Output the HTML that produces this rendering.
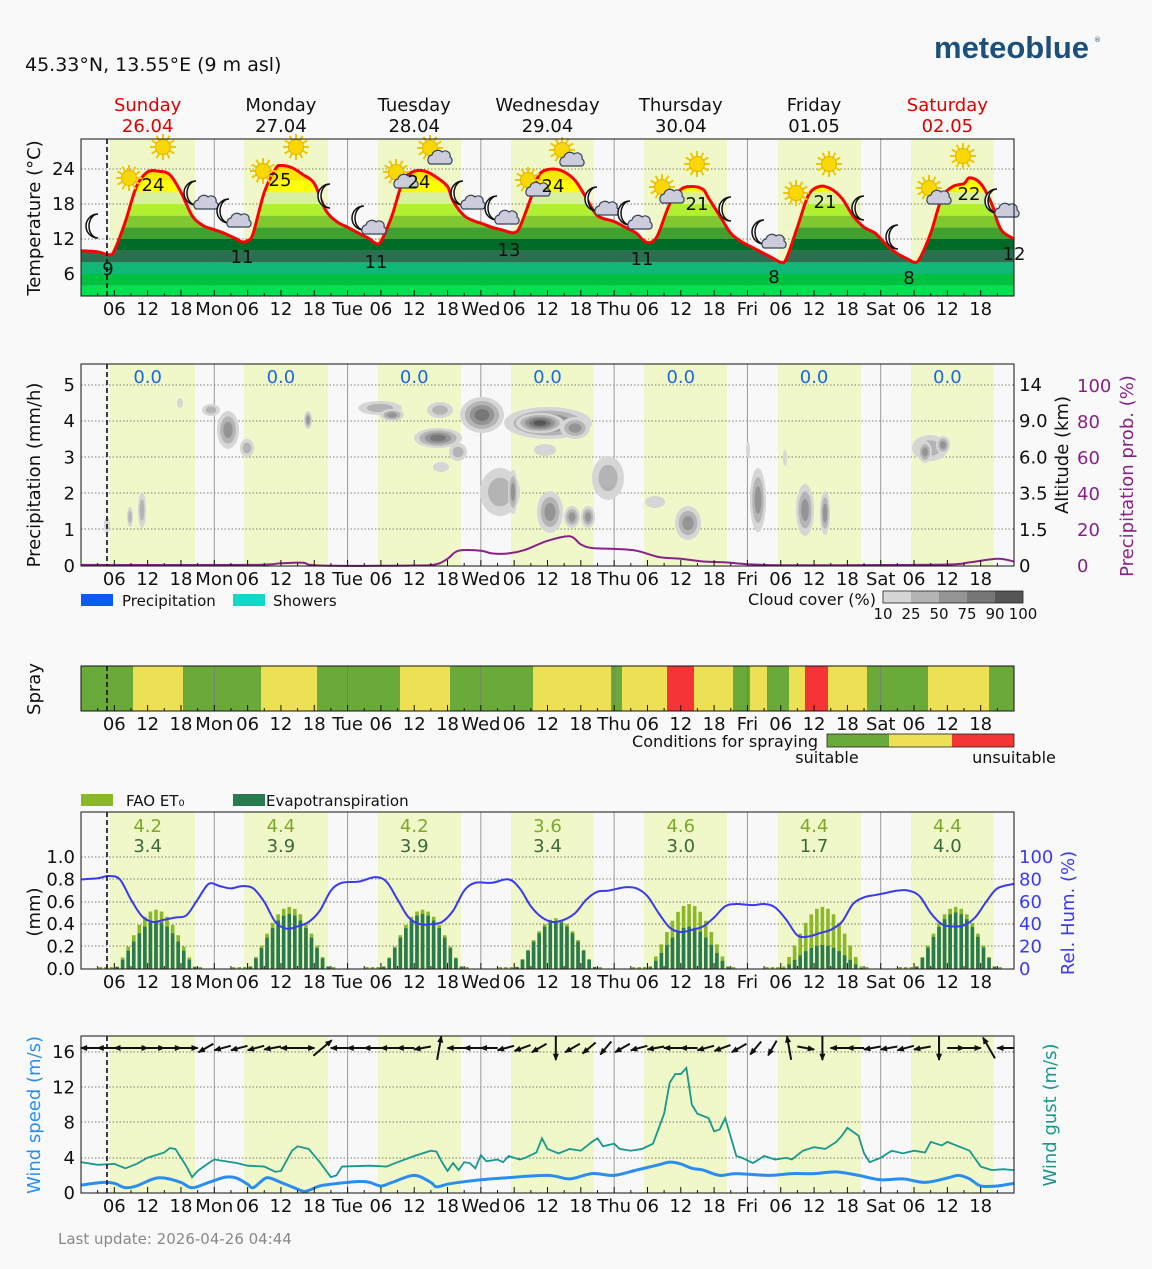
<!DOCTYPE html>
<html><head><meta charset="utf-8">
<style>
html,body{margin:0;padding:0;background:#f9f9f9;}
svg{display:block;font-family:"DejaVu Sans","Liberation Sans",sans-serif;}
</style></head>
<body>
<svg id="s" width="1152" height="1269" viewBox="0 0 1152 1269" xmlns="http://www.w3.org/2000/svg">
<rect width="1152" height="1269" fill="#f9f9f9"/>
<text x="25" y="71" font-size="19" fill="#111">45.33°N, 13.55°E (9 m asl)</text>
<text x="934" y="58" font-size="31" font-weight="bold" fill="#1d4f7c" font-family="Liberation Sans,sans-serif">meteoblue</text>
<text x="1094" y="42" font-size="7" fill="#1d4f7c">®</text>
<text x="58" y="1244" font-size="15" fill="#888">Last update: 2026-04-26 04:44</text>
</svg>
<script>
const S=document.getElementById('s');const NS='http://www.w3.org/2000/svg';
function el(t,a,p){const e=document.createElementNS(NS,t);for(const k in a)e.setAttribute(k,a[k]);(p||S).appendChild(e);return e;}
function tx(x,y,s,a){const e=el('text',Object.assign({x:x,y:y,'font-size':18,fill:'#111'},a||{}));e.textContent=s;return e;}
const X=h=>81+h*933/168;
function smooth(pts){let d='M'+pts[0][0]+','+pts[0][1];for(let i=0;i<pts.length-1;i++){const p0=pts[i-1]||pts[i],p1=pts[i],p2=pts[i+1],p3=pts[i+2]||p2;
const c1=[p1[0]+(p2[0]-p0[0])/6,p1[1]+(p2[1]-p0[1])/6],c2=[p2[0]-(p3[0]-p1[0])/6,p2[1]-(p3[1]-p1[1])/6];
d+=' C'+c1.join(',')+' '+c2.join(',')+' '+p2.join(',');}return d;}
const dayBands=[[110,195],[244,328],[378,461],[511,594],[644,727],[778,861],[911,994]];
const days=[['Sunday','26.04',1],['Monday','27.04'],['Tuesday','28.04'],['Wednesday','29.04'],['Thursday','30.04'],['Friday','01.05'],['Saturday','02.05',1]];
days.forEach((d,i)=>{const cx=X(i*24+12);tx(cx,111,d[0],{'text-anchor':'middle',fill:d[2]?'#d00':'#111'});tx(cx,132,d[1],{'text-anchor':'middle',fill:d[2]?'#d00':'#111'});});
function panel(y0,y1,grid){
 el('rect',{x:81,y:y0,width:933,height:y1-y0,fill:'#f8f8f8'});
 dayBands.forEach(b=>el('rect',{x:b[0],y:y0,width:b[1]-b[0],height:y1-y0,fill:'#f0f7c8'}));
 (grid||[]).forEach(g=>el('line',{x1:81,x2:1014,y1:g,y2:g,stroke:'#555','stroke-width':0.8,'stroke-dasharray':'1.5,2'}));
 for(let d=1;d<7;d++)el('line',{x1:X(d*24),x2:X(d*24),y1:y0,y2:y1,stroke:'#999','stroke-width':1});
}
function frame(y0,y1,labels){
 el('rect',{x:81,y:y0,width:933,height:y1-y0,fill:'none',stroke:'#111','stroke-width':1});
 el('line',{x1:107,x2:107,y1:y0,y2:y1,stroke:'#111','stroke-width':1.6,'stroke-dasharray':'5,3'});
 for(let h=3;h<168;h+=3){const L=(h%6==0)?6:3;el('line',{x1:X(h),x2:X(h),y1:y1-L,y2:y1,stroke:'#111','stroke-width':1});}
 if(labels!==false){const nm=['Mon','Tue','Wed','Thu','Fri','Sat'];
 for(let d=0;d<7;d++){['06','12','18'].forEach((l,k)=>tx(X(d*24+6*(k+1)),y1+19,l,{'text-anchor':'middle'}));if(d>0)tx(X(d*24),y1+19,nm[d-1],{'text-anchor':'middle'});}}
}
function rot(x,y,s,c){tx(x,y,s,{'text-anchor':'middle',transform:'rotate(-90 '+x+' '+y+')',fill:c||'#111'});}
// ===== Panel 1 temperature
const TY=T=>169+(24-T)*5.833;
panel(139,296,[169,204,239,274]);
const tp=[[0,10],[3,9.8],[5,9.3],[6,10],[8,15],[10,21],[12,23.5],[14,23.6],[16,23],[18,20],[20,16],[22,14.3],[24,13.6],[26,12.9],[28,12],[29,11.5],[30,11.7],[31,13],[33,20],[35,24],[36,24.6],[38,24.2],[40,23],[42,21.5],[44,17],[46,15],[48,14],[50,13],[52,12],[53,11.3],[54,11.6],[56,16],[58,22],[60,23.6],[62,23.6],[64,22.6],[66,21],[67,18.5],[69,16],[71,15],[72,14.7],[74,14],[76,13.5],[77,13.2],[78,13.1],[79,14],[81,19],[82,22],[83,23.5],[85,24],[87,23.5],[89,22],[91,19],[93,16],[96,15],[98,14],[100,13],[101,12],[102,11.4],[103,11.6],[104,13],[106,18],[108,20.5],[110,21],[112,20.5],[113,19],[115,16],[117,13],[119,11.5],[121,10.5],[123,9.5],[125,8.5],[126,8],[127,8.6],[129,14],[131,19.5],[133,21],[135,20.6],[137,19],[139,16],[141,14],[143,13],[145,11],[147,9.5],[149,8.5],[150,8],[151,8.6],[153,13],[155,19],[157,21],[159,21.5],[160,22.5],[162,21.5],[164,18],[165,15],[166,13.2],[168,12]];
const tpts=tp.map(p=>[X(p[0]).toFixed(1),TY(p[1]).toFixed(1)].map(Number));
const tpath=smooth(tpts);
const cp=el('clipPath',{id:'tc'});el('path',{d:tpath+' L1014,296 L81,296 Z'},cp);
const g=el('g',{'clip-path':'url(#tc)'});
const bc=['#00e050','#00c040','#10b878','#2a7050','#006a28','#40a030','#80c830','#b0f030','#d8f0a0','#ffff00','#f8e800','#f0d000'];
bc.forEach((c,i)=>{const t0=2+2*i;el('rect',{x:81,y:TY(t0+2),width:933,height:11.67,fill:c},g);});
el('path',{d:tpath,fill:'none',stroke:'#f00','stroke-width':3},S);
function sun(x,y){const gg=el('g',{});for(let a=0;a<360;a+=30){const r=a*Math.PI/180;el('line',{x1:x+Math.cos(r)*7,y1:y+Math.sin(r)*7,x2:x+Math.cos(r)*13,y2:y+Math.sin(r)*13,stroke:'#f0c800','stroke-width':2},gg);}el('circle',{cx:x,cy:y,r:7.5,fill:'#f8d800',stroke:'#e8b000','stroke-width':1},gg);}
function moon(x,y){el('path',{d:`M${x+4},${y-12} A12,12 0 1,0 ${x+4},${y+12} A9,12 0 1,1 ${x+4},${y-12} Z`,fill:'#fff',stroke:'#111','stroke-width':1.5});}
function cloud(x,y){const gg=el('g',{fill:'#ccd',stroke:'#345','stroke-width':1.2});el('path',{d:`M${x-10},${y+6} a5,5 0 0,1 2,-9 a6,6 0 0,1 10,-3 a5,5 0 0,1 8,5 a4,4 0 0,1 0,7 Z`},gg);}
const icons=[['m',98,226],['s',129,178],['s',163,147],['mc',196,193],['mc',229,211],['s',263,171],['s',296,147],['m',330,196],['mc',364,218],['sc',396,172],['sc',430,148],['mc',463,193],['mc',497,208],['sc',528,180],['sc',562,150],['mc',597,199],['mc',630,213],['sc',662,187],['s',697,164],['m',731,209],['mc',764,232],['s',796,193],['s',829,164],['m',864,208],['m',898,237],['sc',929,188],['s',963,156],['mc',997,201]];
icons.forEach(c=>{const [t,x,y]=c;if(t[0]=='s')sun(x,y);else moon(x-4,y);if(t[1]=='c')cloud(x+10,y+10);});
[['24',153,191],['25',280,186],['24',419,188],['24',553,192],['21',697,210],['21',825,208],['22',969,200],['9',108,275],['11',242,263],['11',376,268],['13',509,256],['11',642,265],['8',774,283],['8',909,284],['12',1014,260]].forEach(v=>tx(v[1],v[2],v[0],{'text-anchor':'middle'}));
frame(139,296);
[[24,169],[18,204],[12,239],[6,274]].forEach(v=>tx(75,v[1]+6,v[0],{'text-anchor':'end'}));
rot(40,218,'Temperature (°C)');
// ===== Panel 2
panel(364,566,[385,421,457,493,529]);
const cl=[[107,525,3,8,1],[130,517,3,10,2],[142,510,4,18,2],[180,403,3,5,1],[211,410,9,6,2],[228,430,11,19,3],[247,448,7,9,2],[308,420,4,9,3],[380,408,22,7,2],[392,415,12,6,3],[440,410,13,8,2],[438,438,24,10,4],[458,452,9,9,2],[441,467,8,5,1],[482,415,22,18,4],[548,423,44,16,4],[540,423,24,10,5],[575,428,15,11,3],[545,450,11,6,1],[500,492,20,24,2],[513,492,5,22,3],[550,512,13,21,3],[572,517,8,11,3],[588,517,7,11,3],[608,478,16,22,2],[655,502,10,6,1],[688,523,13,17,3],[748,450,2,8,1],[758,500,8,32,3],[785,458,2,8,1],[805,510,9,26,3],[825,513,5,22,3],[930,448,18,13,2],[943,445,7,9,3],[925,452,7,11,3]];
const cc=['#d6d6d6','#b4b4b4','#949494','#777','#555'];
cl.forEach(c=>{for(let k=0;k<c[4];k++){el('ellipse',{cx:c[0],cy:c[1],rx:Math.max(1,c[2]-k*c[2]/(c[4]+0.5)),ry:Math.max(1,c[3]-k*c[3]/(c[4]+0.5)),fill:cc[k]});}});
const pp=[[0,0.6],[30,0.6],[36,1.5],[40,1.8],[43,0.3],[60,0.3],[64,1],[66,4],[68,8.5],[72,8.5],[74,7],[77,7],[80,9],[84,14],[88,16.5],[90,12],[92,10],[96,9.5],[100,8.5],[104,5],[108,4],[112,2.5],[116,2],[120,1],[126,0.4],[140,0.5],[156,0.8],[160,2],[165,4],[168,2.5]];
el('path',{d:smooth(pp.map(p=>[X(p[0]),566-p[1]*1.8])),fill:'none',stroke:'#882288','stroke-width':2});
for(let d=0;d<7;d++)tx(X(d*24+12),383,'0.0',{'text-anchor':'middle',fill:'#1a6ae0'});
frame(364,566);
for(let i=0;i<=5;i++)tx(75,566-i*36.2+6,String(i),{'text-anchor':'end'});
['0','1.5','3.5','6.0','9.0','14'].forEach((v,i)=>tx(1019,566-i*36.2+6,v));
for(let i=0;i<=5;i++)tx(1077,566-i*36+6,String(i*20),{fill:'#882288'});
rot(40,475,'Precipitation (mm/h)');rot(1068,455,'Altitude (km)');rot(1133,476,'Precipitation prob. (%)','#882288');
el('rect',{x:81,y:594,width:32,height:12,fill:'#0a5cf0'});tx(122,606,'Precipitation',{'font-size':15});
el('rect',{x:233,y:594,width:32,height:12,fill:'#10d8c8'});tx(273,606,'Showers',{'font-size':15});
tx(876,605,'Cloud cover (%)',{'text-anchor':'end','font-size':16});
cc.forEach((c,i)=>el('rect',{x:883+i*28,y:591,width:28,height:12,fill:c}));
el('rect',{x:883,y:591,width:140,height:12,fill:'none',stroke:'#222','stroke-width':0.8});
['10','25','50','75','90','100'].forEach((v,i)=>tx(883+i*28,619,v,{'text-anchor':'middle','font-size':15}));
// ===== Spray
const G='#6aaa3a',Yc='#eee055',R='#f53535';
const sp=[[81,133,G],[133,183,Yc],[183,261,G],[261,317,Yc],[317,400,G],[400,450,Yc],[450,533,G],[533,611,Yc],[611,622,G],[622,667,Yc],[667,694,R],[694,733,Yc],[733,750,G],[750,767,Yc],[767,789,G],[789,805,Yc],[805,828,R],[828,867,Yc],[867,928,G],[928,989,Yc],[989,1014,G]];
sp.forEach(s=>el('rect',{x:s[0],y:666,width:s[1]-s[0],height:45,fill:s[2]}));
for(let d=1;d<7;d++)el('line',{x1:X(d*24),x2:X(d*24),y1:666,y2:711,stroke:'#777','stroke-width':0.8});
frame(666,711);
rot(40,689,'Spray');
tx(818,747,'Conditions for spraying',{'text-anchor':'end','font-size':16});
el('rect',{x:827,y:734,width:62,height:13,fill:G});el('rect',{x:889,y:734,width:63,height:13,fill:Yc});el('rect',{x:952,y:734,width:62,height:13,fill:R});
el('rect',{x:827,y:734,width:187,height:13,fill:'none',stroke:'#222','stroke-width':0.8});
tx(827,763,'suitable',{'text-anchor':'middle','font-size':16});tx(1014,763,'unsuitable',{'text-anchor':'middle','font-size':16});
// ===== Panel 4
el('rect',{x:81,y:794,width:32,height:12,fill:'#8ab828'});tx(126,806,'FAO ET₀',{'font-size':15});
el('rect',{x:233,y:794,width:32,height:12,fill:'#2a7a50'});tx(266,806,'Evapotranspiration',{'font-size':15});
panel(812,969,[857,879,902,924,946]);
const fao=[4.2,4.4,4.2,3.6,4.6,4.4,4.4],ev=[3.4,3.9,3.9,3.4,3.0,1.7,4.0];
for(let d=0;d<7;d++){for(let hr=0;hr<24;hr++){let f=Math.sin(Math.PI*(hr-5.5)/15);f=f>0?Math.pow(f,1.4):0;const v=f*fao[d]*0.126;const e=v*ev[d]/fao[d];const x=X(d*24+hr+0.5)-1.8;
 if(v<0.005){if(hr<3||hr>21)continue;el('rect',{x:x,y:967,width:3.6,height:2,fill:'#8ab828'});continue;}
 el('rect',{x:x,y:969-v*112,width:3.6,height:v*112,fill:'#8ab828'});el('rect',{x:x,y:969-e*112,width:3.6,height:e*112,fill:'#2a7a50'});}
 tx(X(d*24+12),832,fao[d].toFixed(1),{'text-anchor':'middle',fill:'#7aaa28'});tx(X(d*24+12),852,ev[d].toFixed(1),{'text-anchor':'middle',fill:'#3a6a3a'});}
const hu=[[0,80],[3,81],[5,83],[7,80],[9,62],[11,47],[13,42],[15,44],[17,46],[19,48],[21,62],[23,76],[25,74],[27,72],[29,74],[31,72],[33,60],[35,42],[37,36],[39,38],[41,42],[43,52],[45,70],[47,77],[50,78],[53,82],[55,78],[57,62],[59,46],[61,40],[63,40],[65,42],[67,52],[69,70],[71,77],[74,77],[77,80],[79,72],[81,56],[83,46],[85,42],[87,44],[89,50],[91,62],[93,69],[95,70],[98,73],[100,72],[102,65],[104,50],[106,37],[108,33],[110,35],[112,38],[114,46],[116,56],[118,58],[121,57],[123,58],[125,55],[127,44],[129,30],[131,29],[133,32],[135,35],[137,42],[139,58],[141,64],[143,66],[145,68],[147,70],[149,70],[151,65],[153,50],[155,40],[157,38],[159,39],[161,46],[163,60],[165,72],[168,76]];
el('path',{d:smooth(hu.map(p=>[X(p[0]),969-p[1]*1.12])),fill:'none',stroke:'#3a3aee','stroke-width':2});
frame(812,969);
['0.0','0.2','0.4','0.6','0.8','1.0'].forEach((v,i)=>tx(75,969-i*22.4+6,v,{'text-anchor':'end'}));
for(let i=0;i<=5;i++)tx(1019,969-i*22.4+6,String(i*20),{fill:'#3a3aee'});
rot(40,912,'(mm)');rot(1074,913,'Rel. Hum. (%)','#3a3aee');
// ===== Panel 5
panel(1036,1193,[1052,1087,1122,1158]);
const gu=[[0,3.5],[3,3.2],[6,3.3],[8,2.8],[10,3.3],[12,4.0],[15,4.6],[16,5.1],[17,5.0],[19,3.0],[20,1.8],[21,2.5],[23,3.4],[24,3.8],[26,3.6],[28,3.4],[30,3.1],[33,3.0],[35,2.4],[36,2.5],[38,4.8],[39,5.3],[41,5.0],[43,3.5],[45,1.8],[46,2.0],[47,3.0],[52,3.1],[55,3.0],[57,3.5],[60,4.2],[63,4.8],[64,4.7],[65,3.5],[66,2.5],[67,3.4],[68,2.6],[69,3.5],[70,3.4],[71,2.8],[72,4.3],[73,3.6],[75,3.8],[76,3.5],[77,4.2],[79,3.8],[80,4.0],[82,4.6],[83,6.2],[84,5.0],[86,4.5],[88,5.0],[90,4.8],[92,5.8],[93,6.2],[94,5.3],[96,5.6],[97,5.0],[99,4.8],[101,5.0],[103,5.6],[105,9],[106,12.5],[107,13.5],[108,13.5],[109,14.2],[110,10],[111,9],[113,8.5],[114,7],[115,7.2],[116,8.5],[118,4.2],[119,4.0],[121,3.4],[123,4.2],[125,3.8],[127,4.0],[128,3.8],[130,4.8],[132,5.2],[134,5.0],[136,5.8],[137,6.5],[138,7.4],[140,6.5],[141,4.5],[142,3.5],[144,4.0],[146,4.8],[148,4.5],[150,4.8],[152,4.6],[153,5.8],[155,5.4],[156,5.8],[158,5.3],[160,4.8],[162,3.0],[164,2.6],[166,2.7],[168,2.6]];
const ws=[[0,0.9],[4,1.2],[6,1.1],[8,0.6],[10,0.8],[13,1.6],[15,1.7],[18,1.2],[20,0.6],[23,1.2],[26,1.8],[28,1.7],[30,1.0],[31,0.6],[33,1.6],[34,1.7],[36,1.2],[38,0.7],[40,0.2],[41,0.3],[43,0.8],[45,1.0],[50,1.3],[52,1.2],[54,0.8],[56,1.2],[60,2.0],[63,1.2],[64,0.7],[66,1.0],[68,1.2],[72,1.5],[76,1.7],[84,2.0],[88,1.6],[92,2.2],[96,2.0],[100,2.6],[104,3.2],[106,3.5],[108,3.3],[110,2.8],[112,2.6],[115,2.0],[118,2.2],[124,2.0],[128,2.2],[132,2.2],[136,2.4],[140,2.0],[144,1.5],[148,1.6],[152,1.2],[156,1.7],[158,2.0],[160,1.6],[162,0.8],[165,0.8],[168,1.1]];
const WY=v=>1193-v*8.81;
el('polyline',{points:gu.map(p=>X(p[0])+','+WY(p[1])).join(' '),fill:'none',stroke:'#18988f','stroke-width':1.8});
el('path',{d:smooth(ws.map(p=>[X(p[0]),WY(p[1])])),fill:'none',stroke:'#2a8ef0','stroke-width':3});
const ang=[180,180,180,0,0,0,0,150,165,165,165,170,180,0,-40,180,180,180,180,180,170,-80,180,180,180,165,160,150,90,150,140,130,150,165,170,180,180,165,160,150,130,120,-100,10,90,180,180,170,170,165,170,90,0,0,-120,180];
ang.forEach((a,i)=>{const cx=81+(i+0.5)*933/56,cy=1048,r=a*Math.PI/180,L=(a==90||a==-80||a==-100||a==-120||a==-40)?12:8.5;const dx=Math.cos(r)*L,dy=Math.sin(r)*L;
 el('line',{x1:cx-dx,y1:cy-dy,x2:cx+dx,y2:cy+dy,stroke:'#111','stroke-width':2});
 const hx=cx+dx,hy=cy+dy,b1=r+Math.PI-0.45,b2=r+Math.PI+0.45;
 el('polygon',{points:`${hx+Math.cos(r)*1},${hy+Math.sin(r)*1} ${hx+Math.cos(b1)*7},${hy+Math.sin(b1)*7} ${hx+Math.cos(b2)*7},${hy+Math.sin(b2)*7}`,fill:'#111'});});
frame(1036,1193);
[0,4,8,12,16].forEach(v=>tx(75,WY(v)+6,String(v),{'text-anchor':'end'}));
rot(40,1115,'Wind speed (m/s)','#2a8ef0');rot(1056,1115,'Wind gust (m/s)','#18988f');
</script>
</body></html>
